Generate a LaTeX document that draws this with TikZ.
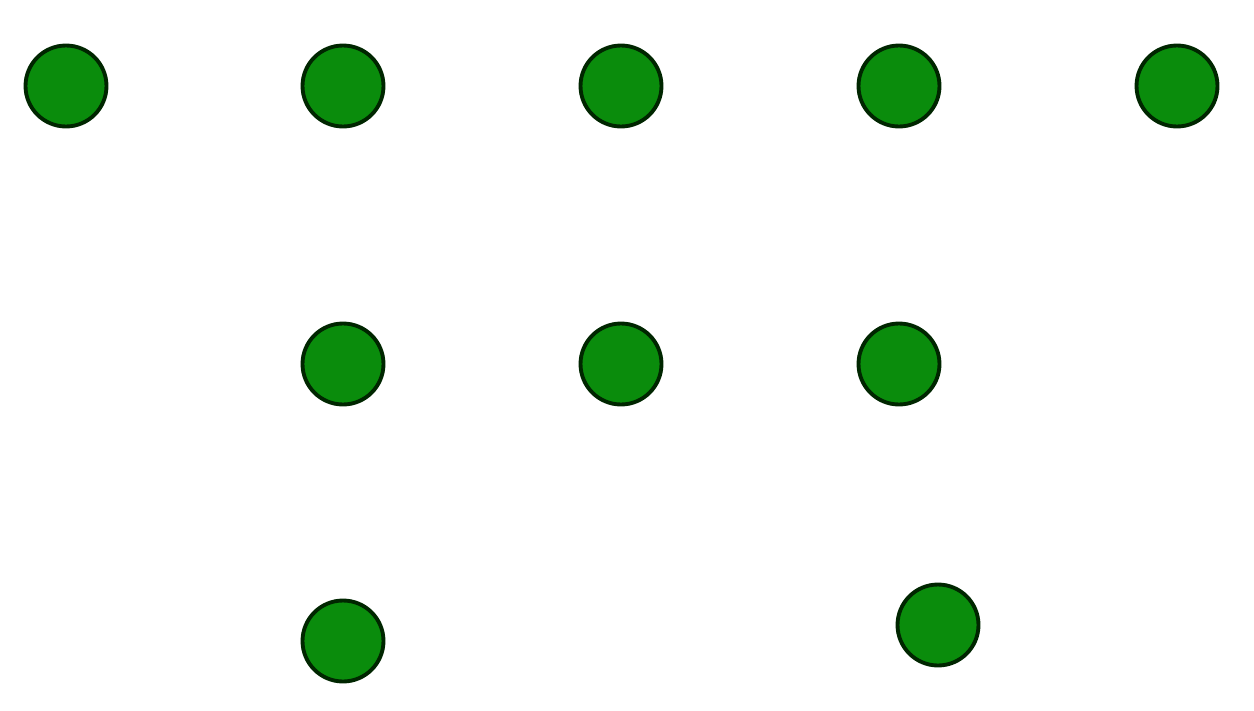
\documentclass[tikz,border=0pt]{standalone}
\begin{document}
\begin{tikzpicture}[x=0.02cm,y=-0.02cm,
  dot/.style={circle,draw=black!85!green,line width=2.2pt,fill=dotgreen,minimum size=1.62cm,inner sep=0pt}]
\definecolor{dotgreen}{RGB}{10,140,12}
\useasboundingbox[fill=white] (0,0) rectangle (1254,710);
\node[dot] (a1) at (66,86) {};
\node[dot] (a2) at (343,86) {};
\node[dot] (a3) at (621,86) {};
\node[dot] (a4) at (899,86) {};
\node[dot] (a5) at (1177,86) {};
\node[dot] (b1) at (343,364) {};
\node[dot] (b2) at (621,364) {};
\node[dot] (b3) at (899,364) {};
\node[dot] (c1) at (343,641) {};
\node[dot] (c2) at (938,625) {};
\end{tikzpicture}
\end{document}
